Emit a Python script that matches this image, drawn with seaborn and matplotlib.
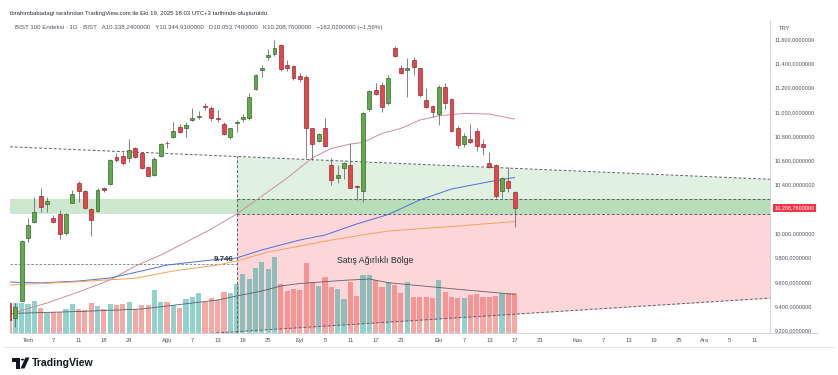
import matplotlib
matplotlib.use("Agg")
import matplotlib.pyplot as plt
import matplotlib.transforms as mtransforms
from matplotlib.patches import Polygon, Circle
import numpy as np
import pandas as pd
import seaborn as sns

# BIST 100, günlük mumlar 26 Haz - 17 Eki 2025
opens = [9426, 9300, 9445, 9964, 10091, 10307, 10241, 10128, 10159, 10000,
         10252, 10412, 10348, 10200, 10184, 10372, 10403, 10630, 10636, 10622,
         10700, 10658, 10543, 10480, 10639, 10745, 10795, 10872, 10864, 10933,
         10955, 11050, 11034, 10950, 10897, 10790, 10905, 10945, 10951, 11188,
         11344, 11455, 11481, 11550, 11385, 11380, 11297, 11289, 10864, 10760,
         10869, 10562, 10452, 10540, 10562, 10385, 10348, 11023, 11180, 11220,
         11070, 11527, 11358, 11347, 11426, 11358, 11097, 11048, 10982, 11207,
         11105, 10869, 10733, 10776, 10844, 10733, 10581, 10562, 10350, 10430,
         10338.24]
highs = [9440, 9426, 9945, 10123, 10296, 10370, 10301, 10151, 10192, 10170,
         10356, 10433, 10356, 10205, 10370, 10385, 10610, 10663, 10670, 10774,
         10712, 10670, 10550, 10625, 10745, 10761, 10918, 10900, 10913, 11029,
         11010, 11075, 11050, 11015, 10920, 10870, 10930, 10982, 11152, 11315,
         11385, 11520, 11591, 11560, 11425, 11390, 11320, 11300, 10870, 10825,
         10951, 10617, 10562, 10590, 10741, 10400, 11000, 11180, 11234, 11250,
         11300, 11540, 11385, 11440, 11453, 11365, 11193, 11056, 11220, 11240,
         11115, 10880, 10823, 10897, 10870, 10776, 10672, 10570, 10466, 10548,
         10344.91]
lows = [9270, 9229, 9440, 9931, 10082, 10178, 10178, 10082, 9953, 9986,
        10247, 10260, 10200, 9978, 10178, 10340, 10395, 10590, 10565, 10590,
        10620, 10530, 10470, 10470, 10630, 10706, 10785, 10830, 10795, 10924,
        10945, 11015, 10925, 10918, 10810, 10780, 10837, 10918, 10930, 11180,
        11289, 11425, 11460, 11340, 11340, 11265, 11250, 10617, 10603, 10750,
        10713, 10398, 10411, 10447, 10370, 10274, 10260, 11010, 11138, 11000,
        11060, 11450, 11310, 11124, 11303, 11120, 11034, 10960, 10891, 11020,
        10835, 10700, 10713, 10741, 10677, 10644, 10540, 10288, 10288, 10342,
        10053.74]
closes = [9287, 9396, 9937, 10068, 10178, 10219, 10268, 10095, 9992, 10159,
          10323, 10348, 10211, 10109, 10356, 10358, 10603, 10603, 10581, 10686,
          10630, 10535, 10474, 10612, 10736, 10740, 10842, 10836, 10891, 10946,
          10968, 11042, 10946, 10940, 10815, 10864, 10918, 10955, 11124, 11303,
          11358, 11468, 11523, 11350, 11358, 11276, 11267, 10864, 10733, 10817,
          10718, 10439, 10480, 10581, 10375, 10380, 10993, 11171, 11146, 11042,
          11281, 11462, 11322, 11363, 11366, 11138, 11042, 11001, 11207, 11075,
          10844, 10727, 10801, 10749, 10718, 10708, 10548, 10307, 10453, 10370.78,
          10208.76]
volumes = [28, 30.3, 30.3, 29.3, 32, 24.7, 20.3, 21, 21, 24,
           28.7, 23.7, 23, 29.7, 27, 23.7, 28.7, 28, 29.3, 31,
           24.3, 28, 28, 43, 31.3, 31.3, 28, 25.3, 33.7, 36,
           39.7, 31.3, 34.7, 32.7, 41.3, 40.3, 48.7, 58.7, 53.7, 65.3,
           71, 63.7, 76.3, 48.7, 42, 44.3, 42.7, 70.3, 51, 47,
           56.3, 46, 43.7, 33.7, 51.3, 37, 58, 58, 52.7, 46,
           51.3, 48, 40.3, 51.3, 36, 36, 36, 35.3, 52.7, 41.3,
           36.3, 35.3, 35.3, 37.7, 38.7, 36.3, 36.3, 37, 40.3, 40.3,
           40.3]

# hareketli ortalamalar (bar no, değer) - grafikten okunan noktalar
ma_pink_x = [-2, 3, 8, 13, 17, 21, 25, 29, 33, 37, 41, 45, 48, 51, 53, 56, 59, 62, 65, 69, 73, 77]
ma_pink_y = [9350, 9426, 9517, 9616, 9731, 9821, 9928, 10035, 10159, 10307, 10455, 10622,
             10700, 10735, 10749, 10823, 10864, 10933, 10968, 10988, 10982, 10941]
ma_blue_x = [-3, 2, 8, 13, 18, 22, 29, 33, 37, 43, 47, 52, 57, 62, 67, 73, 77]
ma_blue_y = [9599, 9591, 9607, 9632, 9690, 9739, 9780, 9797, 9863, 9945, 9986, 10077,
             10155, 10275, 10365, 10425, 10460]
ma_orange_x = [-3, 7, 17, 23, 30, 33, 38, 43, 48, 57, 67, 77]
ma_orange_y = [9574, 9599, 9630, 9690, 9739, 9772, 9846, 9895, 9945, 10019, 10056, 10097]
vol_ma_x = [-3, 8, 18, 22, 30, 33, 37, 40, 43, 50, 54, 57, 67, 77]
vol_ma_y = [19.5, 21.5, 24, 27, 33, 37, 42, 47, 49.5, 52.7, 54, 50.3, 44.3, 38.7]

# çizimler
zone_top, zone_bot = 10285, 10160
level_mark = 9746
zone_start = "2025-08-18"
trend_dates, trend_prices = ["2025-06-26", "2025-12-15"], [10713, 10446]
support_dates, support_prices = ["2025-08-18", "2025-12-15"], [9190, 9465]
last_price = 10208.76

tick_dates = ["2025-07-01", "2025-07-07", "2025-07-11", "2025-07-18", "2025-07-24",
              "2025-08-01", "2025-08-07", "2025-08-13", "2025-08-19", "2025-08-25",
              "2025-09-01", "2025-09-05", "2025-09-11", "2025-09-17", "2025-09-23",
              "2025-10-01", "2025-10-07", "2025-10-13", "2025-10-17", "2025-10-23",
              "2025-11-03", "2025-11-07", "2025-11-13", "2025-11-19", "2025-11-25",
              "2025-12-01", "2025-12-05", "2025-12-11"]
tick_labels = ["Tem", "7", "11", "18", "24", "Ağu", "7", "13", "19", "25",
               "Eyl", "5", "11", "17", "23", "Eki", "7", "13", "17", "23",
               "Kas", "7", "13", "19", "25", "Ara", "5", "11"]
price_ticks = list(range(9200, 11601, 200))

# seans takvimi (tatiller hariç), 1 Temmuz = 0
holidays = pd.to_datetime(["2025-07-15", "2025-10-29"])
sessions = pd.bdate_range("2025-06-26", "2025-12-31")
sessions = sessions[~sessions.isin(holidays)]
pos = np.arange(len(sessions)) - sessions.get_loc(pd.Timestamp("2025-07-01"))


def bar_of(d):
    return pos[sessions.get_loc(pd.Timestamp(d))]


def tr_num(v, nd=7):
    s = f"{v:,.{nd}f}"
    return s.replace(",", "X").replace(".", ",").replace("X", ".")


def line_at(xs, x_pts, y_pts):
    k = (y_pts[1] - y_pts[0]) / (x_pts[1] - x_pts[0])
    return y_pts[0] + k * (np.asarray(xs, dtype=float) - x_pts[0])


sns.set_theme(style="white")
plt.rcParams["font.family"] = ["Liberation Sans", "DejaVu Sans"]

W, H = 838, 375
fig = plt.figure(figsize=(W / 100, H / 100), dpi=100)


def fx(x):
    return x / W


def fy(y):
    return 1 - y / H


pane = [fx(10), fy(333), (770 - 10) / W, (333 - 20) / H]
axf = fig.add_axes(pane)   # bölge dolguları
axv = fig.add_axes(pane)   # hacim
ax = fig.add_axes(pane)    # fiyat
for a in (axv, ax):
    a.patch.set_alpha(0)

xl, xr = -2.85, 117.4
y_lo, y_hi = 9179, 11757

x = pos[:len(opens)]
o, h, l, c = map(np.asarray, (opens, highs, lows, closes))
up = c >= o

# bölgeler
zs = bar_of(zone_start)
tx = [bar_of(d) for d in trend_dates]
sx = [bar_of(d) for d in support_dates]
xx = np.linspace(zs, xr, 50)
axf.fill_between([xl, xr], zone_bot, zone_top, color="#4caf50", alpha=0.28, linewidth=0)
axf.fill_between(xx, zone_bot, line_at(xx, tx, trend_prices), color="#4caf50", alpha=0.17, linewidth=0)
axf.fill_between(xx, line_at(xx, sx, support_prices), zone_bot, color="#f23645", alpha=0.2, linewidth=0)
axf.set_xlim(xl, xr)
axf.set_ylim(y_lo, y_hi)
axf.axis("off")

# hacim
axv.bar(x, volumes, width=0.82, color=np.where(up, "#26a69a", "#ef5350"), alpha=0.5, linewidth=0, zorder=1)
sns.lineplot(x=vol_ma_x, y=vol_ma_y, ax=axv, color="#5d606b", linewidth=0.6, zorder=2)
axv.set_xlim(xl, xr)
axv.set_ylim(0, 313)
axv.axis("off")

dash = dict(color="#5d606b", linewidth=0.7, linestyle=(0, (3, 2)), zorder=3)
ax.plot([xl, xr], line_at([xl, xr], tx, trend_prices), **dash)
ax.plot([zs - 4, xr], line_at([zs - 4, xr], sx, support_prices), **dash)
ax.plot([zs, xr], [zone_top, zone_top], **dash)
ax.plot([zs, xr], [zone_bot, zone_bot], **dash)
ax.plot([zs, zs], [y_lo, line_at([zs], tx, trend_prices)[0]], **dash)
ax.plot([xl, zs], [level_mark, level_mark], color="#787b86", linewidth=0.6, linestyle=(0, (3, 2)), zorder=3)
ax.text(zs - 0.5, level_mark + 12, f"{level_mark / 1000:.3f}", ha="right", va="bottom",
        fontsize=5.8, fontweight="bold", color="#2a2e39", zorder=6)
ax.text(55, 9780, "Satış Ağırlıklı Bölge", ha="center", va="center", fontsize=6.3, color="#2a2e39", zorder=6)

# ortalamalar
sns.lineplot(x=ma_pink_x, y=ma_pink_y, ax=ax, color="#d08a9c", linewidth=0.7, zorder=3)
sns.lineplot(x=ma_blue_x, y=ma_blue_y, ax=ax, color="#4f6fd6", linewidth=0.7, zorder=3)
sns.lineplot(x=ma_orange_x, y=ma_orange_y, ax=ax, color="#f3a257", linewidth=0.7, zorder=3)

# mumlar
body_c = np.where(up, "#62a84c", "#e2474d")
edge_c = np.where(up, "#2c5a20", "#8e2226")
ax.vlines(x, l, h, colors="#5d606b", linewidth=0.55, zorder=4)
ax.bar(x, np.maximum(np.abs(c - o), 8), bottom=np.minimum(o, c), width=0.62,
       color=body_c, edgecolor=edge_c, linewidth=0.45, zorder=5)

ax.set_xlim(xl, xr)
ax.set_ylim(y_lo, y_hi)
ax.set_xticks([bar_of(d) for d in tick_dates], tick_labels)
ax.yaxis.tick_right()
ax.set_yticks(price_ticks, [tr_num(v) for v in price_ticks])
ax.tick_params(axis="x", length=0, pad=3.3, labelsize=4.2, labelcolor="#50535e")
ax.tick_params(axis="y", length=0, pad=3.6, labelsize=4.0, labelcolor="#50535e")
ax.set_xlabel("")
ax.set_ylabel("")
for side in ("top", "left"):
    ax.spines[side].set_visible(False)
for side in ("right", "bottom"):
    ax.spines[side].set_color("#d1d4dc")
    ax.spines[side].set_linewidth(0.7)

# son fiyat etiketi
bt = mtransforms.blended_transform_factory(ax.transAxes, ax.transData)
ax.text(1.006, last_price, tr_num(last_price), transform=bt, ha="left", va="center", fontsize=4.0,
        color="white", bbox=dict(boxstyle="square,pad=0.3", fc="#f23645", ec="none"), zorder=7)

# çerçeve çizgileri
fig.add_artist(plt.Line2D([fx(770), fx(818)], [fy(333), fy(333)], color="#d1d4dc", linewidth=0.7))
fig.add_artist(plt.Line2D([fx(4), fx(834)], [fy(347), fy(347)], color="#e6e8ee", linewidth=0.7))

# üst yazılar
fig.text(fx(10), fy(13), "ibrahimbabadagi tarafından TradingView.com ile Eki 19, 2025 18:03 UTC+3 tarihinde oluşturuldu",
         fontsize=4.3, color="#2a2e39", va="center")
fig.text(fx(15), fy(27.7),
         "BIST 100 Endeksi · 1G · BIST   A10.338,2400000   Y10.344,9100000   D10.053,7400000   K10.208,7600000   −162,0200000 (−1,56%)",
         fontsize=4.4, color="#50535e", va="center")
fig.text(fx(779), fy(28), "TRY", fontsize=4.2, color="#50535e", va="center")

# logo
tvc = "#131722"
fig.patches.append(Polygon([(fx(12), fy(357.5)), (fx(20), fy(357.5)), (fx(20), fy(368.5)),
                            (fx(16), fy(368.5)), (fx(16), fy(361.5)), (fx(12), fy(361.5))],
                           closed=True, transform=fig.transFigure, fc=tvc, ec="none"))
fig.patches.append(Circle((fx(22.6), fy(359.6)), 1.9 / W, transform=fig.transFigure, fc=tvc, ec="none"))
fig.patches.append(Polygon([(fx(25.5), fy(357.5)), (fx(29.5), fy(357.5)), (fx(24.5), fy(368.5)),
                            (fx(20.5), fy(368.5))], closed=True, transform=fig.transFigure, fc=tvc, ec="none"))
fig.text(fx(32), fy(363), "TradingView", fontsize=7.6, fontweight="bold", color=tvc, va="center")

fig.savefig("out.png", dpi=100)
plt.close(fig)
